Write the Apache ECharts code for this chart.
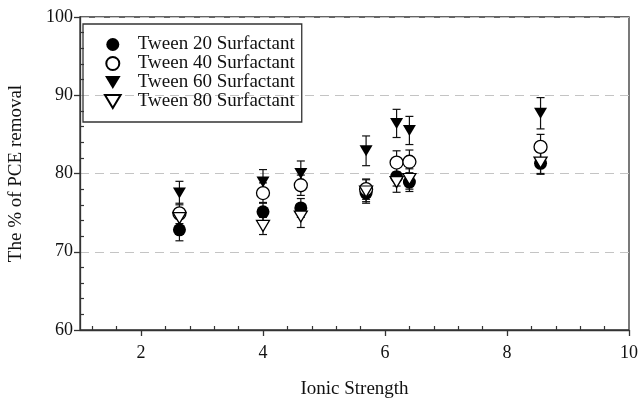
<!DOCTYPE html>
<html>
<head>
<meta charset="utf-8">
<script src="https://cdn.jsdelivr.net/npm/echarts@6/dist/echarts.min.js"></script>
<style>
  html, body { margin: 0; padding: 0; background: #fff; }
  #box { width: 641px; height: 399px; }
</style>
</head>
<body>
<div id="box"></div>
<script>
// ionic strength of each measurement group
const ionic = [2.63, 4.0, 4.62, 5.69, 6.19, 6.40, 8.55]

// % of PCE removal per surfactant
const tween20 = [72.8, 75.1, 75.6, 77.5, 79.6, 78.9, 81.3]
const tween40 = [74.9, 77.5, 78.5, 78.0, 81.4, 81.5, 83.4]
const tween60 = [77.5, 78.9, 80.0, 82.9, 86.4, 85.5, 87.7]
const tween80 = [74.3, 73.3, 74.5, 77.7, 78.9, 79.3, 81.4]

// error bar half-widths
const err20 = [1.4, 1.2, 1.2, 1.1, 1.2, 1.2, 1.4]
const err40 = [1.3, 1.3, 1.3, 1.3, 1.5, 1.5, 1.6]
const err60 = [1.5, 1.6, 1.6, 1.9, 1.8, 1.8, 2.0]
const err80 = [1.2, 1.1, 1.4, 1.5, 1.3, 1.3, 1.4]

const names = ['Tween 20 Surfactant', 'Tween 40 Surfactant', 'Tween 60 Surfactant', 'Tween 80 Surfactant']

// tick labels / tick positions
const xMajor = [2, 4, 6, 8, 10]
const xMinor = [1.2, 1.6, 2.4, 2.8, 3.2, 3.6, 4.4, 4.8, 5.2, 5.6, 6.4, 6.8, 7.2, 7.6, 8.4, 8.8, 9.2, 9.6]
const yMinor = [62, 64, 66, 68, 72, 74, 76, 78, 82, 84, 86, 88, 92, 94, 96, 98]

const font = 'Liberation Serif'
const downTri = 'path://M0,0L12,0L6,10Z'

const myChart = echarts.init(document.getElementById('box'))

const errSeries = (vals, errs) => ({
  type: 'custom',
  name: 'err',
  silent: true,
  data: ionic.map((x, i) => [x, vals[i] - errs[i], vals[i] + errs[i]]),
  renderItem: (params, api) => {
    const lo = api.coord([api.value(0), api.value(1)])
    const hi = api.coord([api.value(0), api.value(2)])
    const w = 4
    const st = { stroke: '#111', lineWidth: 1.2 }
    return {
      type: 'group',
      children: [
        { type: 'line', shape: { x1: lo[0], y1: lo[1], x2: hi[0], y2: hi[1] }, style: st },
        { type: 'line', shape: { x1: lo[0] - w, y1: lo[1], x2: lo[0] + w, y2: lo[1] }, style: st },
        { type: 'line', shape: { x1: hi[0] - w, y1: hi[1], x2: hi[0] + w, y2: hi[1] }, style: st }
      ]
    }
  }
})

const dotSeries = (name, vals, symbol, size, filled) => ({
  type: 'scatter',
  name: name,
  data: ionic.map((x, i) => [x, vals[i]]),
  symbol: symbol,
  symbolSize: size,
  itemStyle: {
    color: filled ? '#000' : '#fff',
    borderColor: '#000',
    borderWidth: filled ? 0 : 1.3,
    opacity: 1
  }
})

let data = {
  animation: false,
  backgroundColor: '#fff',
  grid: {
    left: 80,
    right: 12,
    top: 17,
    bottom: 69,
    outerBoundsMode: 'none',
    show: true,
    borderColor: '#333',
    borderWidth: 1.3
  },
  legend: {
    data: names,
    orient: 'vertical',
    left: 83,
    top: 24,
    padding: [11, 7, 11, 21],
    itemWidth: 40,
    itemHeight: 13,
    itemGap: 0,
    borderColor: '#333',
    borderWidth: 1.3,
    selectedMode: false,
    textStyle: { fontFamily: font, fontSize: 19, color: '#111', lineHeight: 19 }
  },
  xAxis: [
    {
      type: 'value',
      min: 1,
      max: 10,
      name: 'Ionic Strength',
      nameLocation: 'middle',
      nameGap: 50,
      nameTextStyle: { fontFamily: font, fontSize: 19, color: '#111' },
      axisLine: { lineStyle: { color: '#333', width: 1.3 } },
      axisTick: { customValues: xMajor, length: 6, lineStyle: { color: '#333', width: 1.3 } },
      axisLabel: { customValues: xMajor, margin: 14, fontFamily: font, fontSize: 18, color: '#111' },
      splitLine: { show: false }
    },
    {
      type: 'value',
      min: 1,
      max: 10,
      position: 'bottom',
      axisLine: { show: false },
      axisTick: { customValues: xMinor, inside: true, length: 4, lineStyle: { color: '#333', width: 1.2 } },
      axisLabel: { show: false },
      splitLine: { show: false }
    }
  ],
  yAxis: [
    {
      type: 'value',
      min: 60,
      max: 100,
      interval: 10,
      name: 'The % of PCE removal',
      nameLocation: 'middle',
      nameGap: 54,
      nameTextStyle: { fontFamily: font, fontSize: 19, color: '#111' },
      axisLine: { show: true, lineStyle: { color: '#333', width: 1.3 } },
      axisTick: { show: true, length: 6, lineStyle: { color: '#333', width: 1.3 } },
      axisLabel: { margin: 7, fontFamily: font, fontSize: 18, color: '#111' },
      splitLine: { show: true, lineStyle: { color: '#c4c4c4', width: 1.2, type: [9, 6] } }
    },
    {
      type: 'value',
      min: 60,
      max: 100,
      position: 'left',
      axisLine: { show: false },
      axisTick: { show: true, customValues: yMinor, inside: true, length: 4, lineStyle: { color: '#333', width: 1.2 } },
      axisLabel: { show: false },
      splitLine: { show: false }
    }
  ],
  series: [
    errSeries(tween20, err20),
    dotSeries(names[0], tween20, 'circle', 13, true),
    errSeries(tween40, err40),
    dotSeries(names[1], tween40, 'circle', 13, false),
    errSeries(tween60, err60),
    dotSeries(names[2], tween60, downTri, [13, 11], true),
    errSeries(tween80, err80),
    dotSeries(names[3], tween80, downTri, [13, 11], false)
  ]
}

myChart.setOption(data)
</script>
</body>
</html>
